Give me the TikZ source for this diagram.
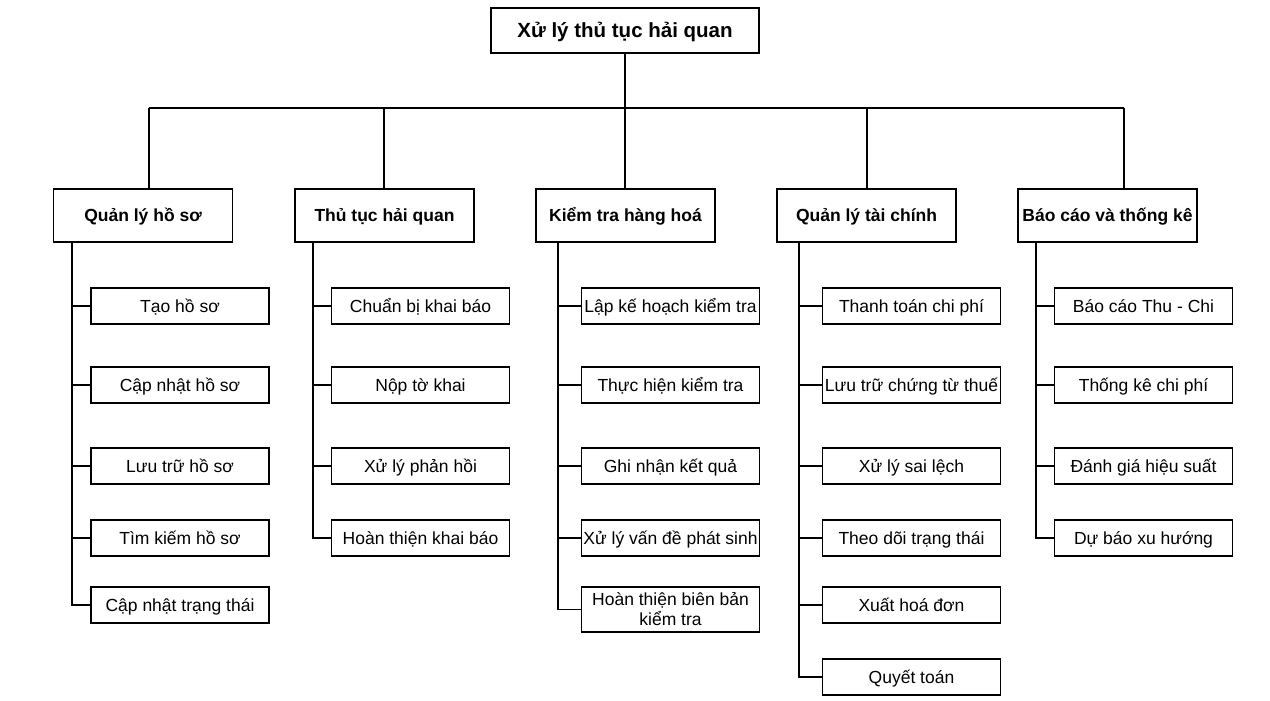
\documentclass[tikz,border=0pt]{standalone}
\usepackage{fontspec}
\setmainfont{Liberation Sans}
\begin{document}
\begin{tikzpicture}[x=1pt,y=-1pt,
  line width=1.7pt, line join=miter,
  rootbox/.style={draw, minimum width=268pt, minimum height=45pt, inner sep=0pt, text height=14.7pt, text depth=0.3pt, font=\fontsize{20.5}{24}\selectfont\bfseries},
  catbox/.style={draw, minimum width=179pt, minimum height=53pt, inner sep=0pt, text height=12.6pt, text depth=0.4pt, font=\fontsize{17.5}{21}\selectfont\bfseries},
  itembox/.style={draw, minimum width=178pt, minimum height=36pt, inner sep=0pt, text height=12.6pt, text depth=0.4pt, font=\fontsize{17.5}{20}\selectfont},
  twoline/.style={draw, minimum width=178pt, minimum height=45pt, inner sep=0pt, align=center, font=\fontsize{17.5}{20}\selectfont},
  link/.style={line width=1.7pt}]
\useasboundingbox (0,0) rectangle (1270,701);
\fill[white] (0,0) rectangle (1270,701);
% root
\node[rootbox] (root) at (625,30.5) {Xử lý thủ tục hải quan};
% categories
\node[catbox] (k1) at (143,215.5) {Quản lý hồ sơ};
\node[catbox] (k2) at (384.5,215.5) {Thủ tục hải quan};
\node[catbox] (k3) at (625.5,215.5) {Kiểm tra hàng hoá};
\node[catbox] (k4) at (866.5,215.5) {Quản lý tài chính};
\node[catbox] (k5) at (1107.5,215.5) {Báo cáo và thống kê};
% bar coordinates
\coordinate (bm) at (625,108);
\coordinate (b1) at (149,108);
\coordinate (b2) at (384,108);
\coordinate (b3) at (625,108);
\coordinate (b4) at (867,108);
\coordinate (b5) at (1124,108);
\draw[link] (root.south) -- (bm);
\draw[link] (b1) -- (b5);
\foreach \i in {1,...,5} { \draw[link] (b\i) -- (b\i |- k\i.north); }
% column 1
\node[itembox] (c11) at (180,306) {Tạo hồ sơ};
\node[itembox] (c12) at (180,385) {Cập nhật hồ sơ};
\node[itembox] (c13) at (180,466) {Lưu trữ hồ sơ};
\node[itembox] (c14) at (180,538) {Tìm kiếm hồ sơ};
\node[itembox] (c15) at (180,605) {Cập nhật trạng thái};
% column 2
\node[itembox] (c21) at (420.5,306) {Chuẩn bị khai báo};
\node[itembox] (c22) at (420.5,385) {Nộp tờ khai};
\node[itembox] (c23) at (420.5,466) {Xử lý phản hồi};
\node[itembox] (c24) at (420.5,538) {Hoàn thiện khai báo};
% column 3
\node[itembox] (c31) at (670.5,306) {Lập kế hoạch kiểm tra};
\node[itembox] (c32) at (670.5,385) {Thực hiện kiểm tra};
\node[itembox] (c33) at (670.5,466) {Ghi nhận kết quả};
\node[itembox] (c34) at (670.5,538) {Xử lý vấn đề phát sinh};
\node[twoline] (c35) at (670.5,609.5) {Hoàn thiện biên bản\\kiểm tra};
% column 4
\node[itembox] (c41) at (911.5,306) {Thanh toán chi phí};
\node[itembox] (c42) at (911.5,385) {Lưu trữ chứng từ thuế};
\node[itembox] (c43) at (911.5,466) {Xử lý sai lệch};
\node[itembox] (c44) at (911.5,538) {Theo dõi trạng thái};
\node[itembox] (c45) at (911.5,605) {Xuất hoá đơn};
\node[itembox] (c46) at (911.5,677) {Quyết toán};
% column 5
\node[itembox] (c51) at (1143.5,306) {Báo cáo Thu - Chi};
\node[itembox] (c52) at (1143.5,385) {Thống kê chi phí};
\node[itembox] (c53) at (1143.5,466) {Đánh giá hiệu suất};
\node[itembox] (c54) at (1143.5,538) {Dự báo xu hướng};
% spines
\coordinate (s1) at (72,0);
\coordinate (s2) at (313,0);
\coordinate (s3) at (558,0);
\coordinate (s4) at (799,0);
\coordinate (s5) at (1036,0);
\draw[link] (s1 |- k1.south) |- (c15.west);
\foreach \j in {1,...,4} { \draw[link] (s1 |- c1\j.west) -- (c1\j.west); }
\draw[link] (s2 |- k2.south) |- (c24.west);
\foreach \j in {1,...,3} { \draw[link] (s2 |- c2\j.west) -- (c2\j.west); }
\draw[link] (s3 |- k3.south) |- (c35.west);
\foreach \j in {1,...,4} { \draw[link] (s3 |- c3\j.west) -- (c3\j.west); }
\draw[link] (s4 |- k4.south) |- (c46.west);
\foreach \j in {1,...,5} { \draw[link] (s4 |- c4\j.west) -- (c4\j.west); }
\draw[link] (s5 |- k5.south) |- (c54.west);
\foreach \j in {1,...,3} { \draw[link] (s5 |- c5\j.west) -- (c5\j.west); }
\end{tikzpicture}
\end{document}
